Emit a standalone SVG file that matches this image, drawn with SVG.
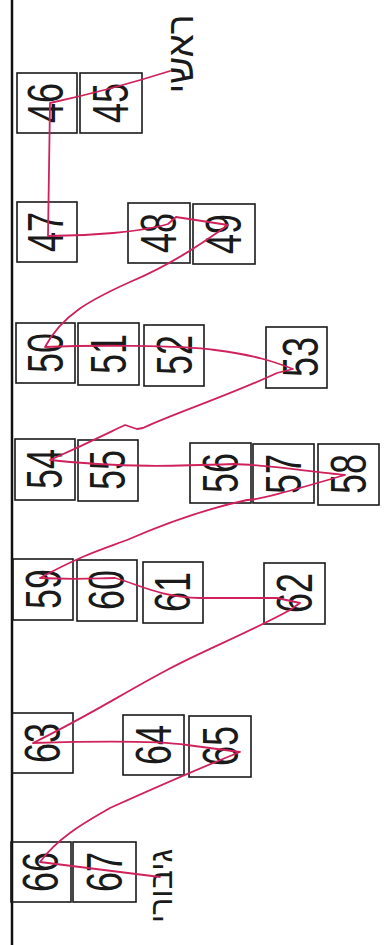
<svg xmlns="http://www.w3.org/2000/svg" width="389" height="945" viewBox="0 0 389 945">
<style>
.box{fill:none;stroke:#1a1a1a;stroke-width:1.6}
.num{font-family:"Liberation Sans","DejaVu Sans",sans-serif;font-size:50px;fill:#1a1a1a;text-anchor:middle}
.lbl{font-family:"Liberation Sans","DejaVu Sans",sans-serif;fill:#1a1a1a;text-anchor:middle}
.con{fill:none;stroke:#d0225a;stroke-width:1.8;stroke-linejoin:round;stroke-linecap:round}
</style>
<rect width="389" height="945" fill="#ffffff"/>
<line x1="12" y1="0" x2="12" y2="945" stroke="#111" stroke-width="2.5"/>
<g id="n46"><rect class="box" x="17" y="73" width="60" height="60"/><text class="num" transform="translate(63,103) rotate(-90) scale(0.72,1)">46</text></g>
<g id="n45"><rect class="box" x="80" y="73" width="62" height="60"/><text class="num" transform="translate(128,103) rotate(-90) scale(0.72,1)">45</text></g>
<g id="n47"><rect class="box" x="17" y="202" width="60" height="60"/><text class="num" transform="translate(63,232) rotate(-90) scale(0.72,1)">47</text></g>
<g id="n48"><rect class="box" x="128" y="203" width="62" height="60"/><text class="num" transform="translate(176,233) rotate(-90) scale(0.72,1)">48</text></g>
<g id="n49"><rect class="box" x="193" y="204" width="62" height="60"/><text class="num" transform="translate(241,234) rotate(-90) scale(0.72,1)">49</text></g>
<g id="n50"><rect class="box" x="16" y="323" width="59" height="60"/><text class="num" transform="translate(63,353) rotate(-90) scale(0.72,1)">50</text></g>
<g id="n51"><rect class="box" x="78" y="323" width="61" height="62"/><text class="num" transform="translate(126,354) rotate(-90) scale(0.72,1)">51</text></g>
<g id="n52"><rect class="box" x="144" y="325" width="60" height="61"/><text class="num" transform="translate(192,355) rotate(-90) scale(0.72,1)">52</text></g>
<g id="n53"><rect class="box" x="266" y="327" width="61" height="61"/><text class="num" transform="translate(318,357) rotate(-90) scale(0.72,1)">53</text></g>
<g id="n54"><rect class="box" x="15" y="439" width="60" height="61"/><text class="num" transform="translate(62,469) rotate(-90) scale(0.72,1)">54</text></g>
<g id="n55"><rect class="box" x="78" y="440" width="60" height="61"/><text class="num" transform="translate(125,470) rotate(-90) scale(0.72,1)">55</text></g>
<g id="n56"><rect class="box" x="190" y="443" width="61" height="60"/><text class="num" transform="translate(238,473) rotate(-90) scale(0.72,1)">56</text></g>
<g id="n57"><rect class="box" x="253" y="444" width="61" height="59"/><text class="num" transform="translate(301,474) rotate(-90) scale(0.72,1)">57</text></g>
<g id="n58"><rect class="box" x="318" y="444" width="61" height="61"/><text class="num" transform="translate(366,474) rotate(-90) scale(0.72,1)">58</text></g>
<g id="n59"><rect class="box" x="13" y="559" width="60" height="61"/><text class="num" transform="translate(61,589) rotate(-90) scale(0.72,1)">59</text></g>
<g id="n60"><rect class="box" x="77" y="560" width="60" height="61"/><text class="num" transform="translate(124,590) rotate(-90) scale(0.72,1)">60</text></g>
<g id="n61"><rect class="box" x="143" y="562" width="60" height="61"/><text class="num" transform="translate(190,592) rotate(-90) scale(0.72,1)">61</text></g>
<g id="n62"><rect class="box" x="264" y="563" width="61" height="61"/><text class="num" transform="translate(312,593) rotate(-90) scale(0.72,1)">62</text></g>
<g id="n63"><rect class="box" x="12" y="713" width="61" height="60"/><text class="num" transform="translate(60,743) rotate(-90) scale(0.72,1)">63</text></g>
<g id="n64"><rect class="box" x="123" y="715" width="61" height="60"/><text class="num" transform="translate(171,745) rotate(-90) scale(0.72,1)">64</text></g>
<g id="n65"><rect class="box" x="189" y="716" width="62" height="61"/><text class="num" transform="translate(238,746) rotate(-90) scale(0.72,1)">65</text></g>
<g id="n66"><rect class="box" x="11" y="842" width="60" height="60"/><text class="num" transform="translate(58,872) rotate(-90) scale(0.72,1)">66</text></g>
<g id="n67"><rect class="box" x="73" y="842" width="63" height="60"/><text class="num" transform="translate(122,872) rotate(-90) scale(0.72,1)">67</text></g>
<g id="lblTop"><text class="lbl" font-size="37" transform="translate(193,54) rotate(-90)">ראשי</text></g>
<g id="lblBottom"><text class="lbl" font-size="32" transform="translate(172,886) rotate(-90)">גיבורי</text></g>
<g id="connectors">
<path class="con" d="M170,71 Q110,90 50,103 L48,236 C90,236 140,232 168,224 L176,217 L228,225 C200,245 170,265 130,282 C90,300 62,315 45,347 C90,345 180,345 215,350 C255,355 275,362 293,369 L277,373 C230,395 170,415 143,428 L137,429 L125,425 C110,432 95,440 50,460 C120,468 180,466 233,464 C270,465 310,472 345,475 C300,488 260,500 247,500 C200,510 150,530 127,540 C100,550 80,556 40,578 C80,580 100,578 115,578 C140,585 160,597 200,598 L277,598 L300,603 L290,610 C250,632 200,652 167,670 C120,695 90,715 33,743 C100,741 160,741 187,745 L240,752 C200,768 150,790 110,808 C90,820 60,835 40,862 L160,877"/>
</g>
</svg>
